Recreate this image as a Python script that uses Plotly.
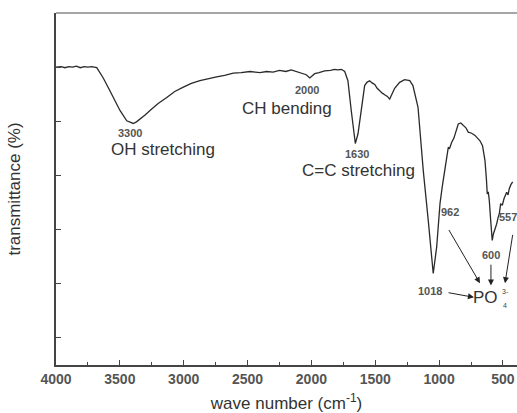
import plotly.graph_objects as go

# FTIR spectrum (wavenumber in cm^-1, transmittance in arbitrary units)
wavenumber = [4000, 3960, 3930, 3900, 3870, 3840, 3810, 3780, 3750, 3720, 3681, 3630, 3577,
              3540, 3499, 3446, 3420, 3395, 3370, 3342, 3300, 3264, 3200, 3133, 3070, 3003,
              2940, 2873, 2810, 2742, 2680, 2612, 2550, 2481, 2440, 2403, 2350, 2300, 2250,
              2200, 2158, 2120, 2079, 2040, 2013, 1995, 1974, 1940, 1896, 1850, 1820, 1792,
              1765, 1739, 1714, 1688, 1670, 1656, 1635, 1609, 1583, 1565, 1544, 1525, 1504,
              1485, 1465, 1445, 1426, 1405, 1387, 1374, 1348, 1309, 1270, 1230, 1205, 1165,
              1124, 1085, 1046, 1019, 993, 975, 954, 928, 918, 902, 884, 850, 830, 811, 790,
              772, 745, 719, 700, 680, 660, 641, 630, 623, 615, 607, 596, 584, 575, 563, 550,
              537, 528, 518, 505, 492, 480, 471, 460, 451, 438, 424]
transmittance = [55.0, 55.1, 54.9, 55.1, 55.0, 55.2, 54.9, 55.1, 55.0, 55.1, 54.9, 53.0, 50.6,
                 48.8, 47.0, 45.1, 44.8, 44.6, 44.9, 45.4, 46.2, 47.0, 48.3, 49.4, 50.5, 51.3,
                 52.0, 52.5, 52.9, 53.2, 53.5, 53.9, 54.0, 54.2, 54.1, 54.0, 54.2, 54.1, 54.4,
                 54.2, 54.5, 54.2, 54.0, 53.6, 53.0, 53.4, 53.8, 54.0, 54.3, 54.4, 54.6, 54.5,
                 54.6, 54.2, 52.5, 47.0, 43.5, 40.9, 42.7, 47.6, 51.6, 52.2, 52.5, 52.1, 51.8,
                 51.1, 50.6, 50.2, 49.9, 49.6, 49.1, 49.7, 51.1, 52.2, 52.7, 52.5, 51.6, 47.6,
                 35.9, 26.7, 16.9, 21.8, 29.8, 33.0, 35.9, 40.2, 40.0, 41.1, 41.9, 44.5, 44.7,
                 44.2, 43.8, 43.0, 42.8, 42.4, 42.0, 41.4, 40.5, 37.8, 34.5, 31.6, 32.0, 30.4,
                 26.7, 23.0, 24.2, 24.9, 26.0, 27.3, 28.0, 29.8, 29.5, 30.7, 31.5, 31.9, 31.4,
                 32.5, 33.3, 33.8]

x_ticks = [4000, 3500, 3000, 2500, 2000, 1500, 1000, 500]
y_ticks = [5, 15, 25, 35, 45, 55]

FONT = "Liberation Sans, Arial, sans-serif"

fig = go.Figure()
fig.add_trace(go.Scatter(x=wavenumber, y=transmittance, mode="lines",
                         line=dict(color="#2a2a2a", width=1.3), showlegend=False,
                         hoverinfo="skip"))

def label(x, y, text, size=11, color="#555", bold=True):
    fig.add_annotation(x=x, y=y, xref="x", yref="y", showarrow=False,
                       text=(f"<b>{text}</b>" if bold else text),
                       font=dict(family=FONT, size=size, color=color))

label(3420, 42.8, "3300")
label(3162, 39.8, "OH stretching", size=17, color="#333", bold=False)
label(2035, 50.8, "2000")
label(2191, 47.3, "CH bending", size=17, color="#333", bold=False)
label(1643, 39.0, "1630")
label(1635, 35.9, "C=C stretching", size=17, color="#333", bold=False)
label(915, 28.2, "962")
label(461, 27.3, "557")
label(594, 20.4, "600")
label(1068, 13.7, "1018")
label(637, 12.4, "PO", size=17, color="#333", bold=False)
label(484, 13.5, "3-", size=7, color="#444", bold=False)
label(484, 10.9, "4", size=7, color="#444", bold=False)

def arrow(x0, y0, x1, y1):
    fig.add_annotation(x=x1, y=y1, ax=x0, ay=y0, xref="x", yref="y",
                       axref="x", ayref="y", text="", showarrow=True,
                       arrowhead=2, arrowsize=1.2, arrowwidth=1, arrowcolor="#222")

arrow(938, 13.4, 727, 12.5)
arrow(930, 25.2, 680, 15.1)
arrow(594, 18.8, 594, 14.7)
arrow(422, 24.3, 484, 15.1)

fig.add_shape(type="line", xref="paper", yref="paper", x0=0, x1=1, y0=1, y1=1,
              line=dict(color="#888", width=1.5))

fig.update_layout(
    width=517, height=413,
    margin=dict(l=56, r=0, t=13, b=48),
    paper_bgcolor="white", plot_bgcolor="white",
    xaxis=dict(range=[4000, 390], tickvals=x_ticks,
               ticktext=[f"<b>{v}</b>" for v in x_ticks],
               ticks="inside", ticklen=5, tickwidth=1.2, tickcolor="#444",
               minor=dict(ticks="inside", ticklen=3, tickwidth=1, tickcolor="#444", dtick=250),
               showline=True, linecolor="#444", linewidth=1.5,
               showgrid=False, zeroline=False, automargin=False,
               tickfont=dict(family=FONT, size=14, color="#555"),
               title=dict(text="wave number (cm<sup>-1</sup>)", standoff=18,
                          font=dict(family=FONT, size=17, color="#333"))),
    yaxis=dict(range=[0, 65], tickvals=y_ticks, showticklabels=False,
               ticks="inside", ticklen=5, tickwidth=1.2, tickcolor="#444",
               showline=True, linecolor="#444", linewidth=1.5,
               showgrid=False, zeroline=False, automargin=False,
               title=dict(text="transmittance (%)", standoff=29,
                          font=dict(family=FONT, size=17, color="#333"))),
)

fig.write_html("out.html", config={"displayModeBar": False},
               post_script="document.body.style.margin='0px';document.body.style.overflow='hidden';")
